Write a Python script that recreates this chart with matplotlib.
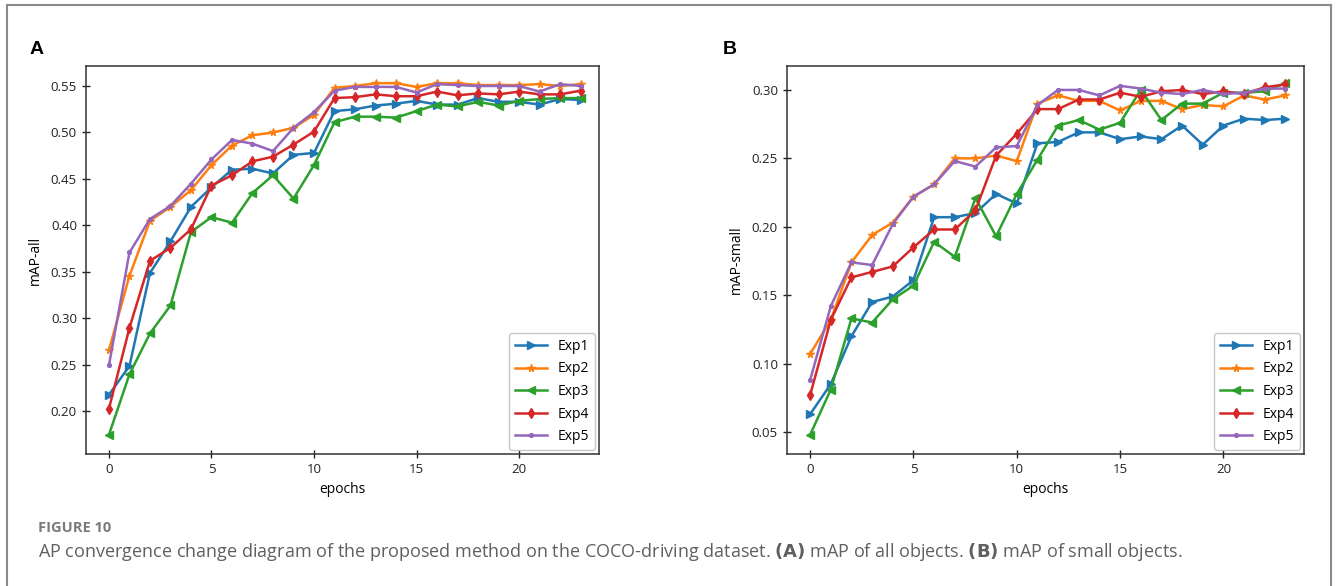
import numpy as np
import matplotlib
matplotlib.use('Agg')
import matplotlib.pyplot as plt

plt.rcParams['font.family'] = ['Open Sans', 'DejaVu Sans']

#-------------------------------- DATA -------------------------------------
epochs = list(range(24))
labels = ['Exp1', 'Exp2', 'Exp3', 'Exp4', 'Exp5']

# (A) mAP of all objects
all_exp1 = [0.218, 0.249, 0.349, 0.383, 0.420, 0.441, 0.460, 0.461, 0.456, 0.476, 0.478, 0.523,
            0.525, 0.529, 0.531, 0.534, 0.530, 0.530, 0.537, 0.533, 0.533, 0.530, 0.536, 0.535]
all_exp2 = [0.266, 0.346, 0.405, 0.420, 0.438, 0.465, 0.486, 0.497, 0.500, 0.505, 0.519, 0.548,
            0.550, 0.553, 0.553, 0.549, 0.553, 0.553, 0.551, 0.551, 0.551, 0.552, 0.550, 0.552]
all_exp3 = [0.175, 0.240, 0.284, 0.314, 0.393, 0.409, 0.403, 0.435, 0.454, 0.429, 0.465, 0.511,
            0.517, 0.517, 0.516, 0.523, 0.530, 0.528, 0.533, 0.529, 0.534, 0.536, 0.537, 0.537]
all_exp4 = [0.203, 0.290, 0.362, 0.376, 0.396, 0.443, 0.454, 0.469, 0.474, 0.487, 0.501, 0.537,
            0.538, 0.541, 0.539, 0.539, 0.544, 0.540, 0.542, 0.541, 0.544, 0.541, 0.541, 0.545]
all_exp5 = [0.250, 0.371, 0.407, 0.421, 0.445, 0.471, 0.492, 0.488, 0.480, 0.505, 0.522, 0.545,
            0.549, 0.549, 0.549, 0.543, 0.552, 0.551, 0.550, 0.550, 0.550, 0.544, 0.552, 0.550]

# (B) mAP of small objects
small_exp1 = [0.063, 0.085, 0.120, 0.145, 0.149, 0.161, 0.207, 0.207, 0.210, 0.224, 0.217, 0.261,
              0.262, 0.269, 0.269, 0.264, 0.266, 0.264, 0.274, 0.260, 0.274, 0.279, 0.278, 0.279]
small_exp2 = [0.107, 0.132, 0.174, 0.194, 0.203, 0.222, 0.231, 0.250, 0.250, 0.252, 0.248, 0.290,
              0.296, 0.292, 0.292, 0.285, 0.292, 0.292, 0.286, 0.289, 0.288, 0.296, 0.293, 0.296]
small_exp3 = [0.048, 0.081, 0.133, 0.130, 0.147, 0.157, 0.189, 0.178, 0.221, 0.193, 0.224, 0.249,
              0.274, 0.278, 0.271, 0.276, 0.300, 0.278, 0.290, 0.290, 0.298, 0.298, 0.299, 0.305]
small_exp4 = [0.077, 0.132, 0.163, 0.167, 0.171, 0.185, 0.198, 0.198, 0.212, 0.252, 0.268, 0.286,
              0.286, 0.293, 0.293, 0.298, 0.295, 0.299, 0.300, 0.297, 0.299, 0.297, 0.302, 0.304]
small_exp5 = [0.088, 0.142, 0.174, 0.172, 0.202, 0.222, 0.231, 0.248, 0.244, 0.258, 0.259, 0.289,
              0.300, 0.300, 0.296, 0.303, 0.301, 0.298, 0.297, 0.300, 0.297, 0.298, 0.301, 0.301]

markers = ['>', '*', '<', 'd', '.']
colors = ['#1f77b4', '#ff7f0e', '#2ca02c', '#d62728', '#9467bd']

#-------------------------------- PLOT -------------------------------------
fig = plt.figure(figsize=(13.36, 5.86), dpi=100)

# outer frame (open at bottom like the page crop)
fc = '#8a8a8a'
fig.add_artist(plt.Line2D([7/1336, 7/1336], [0, 1-5/586], transform=fig.transFigure, color=fc, lw=1.5))
fig.add_artist(plt.Line2D([1331/1336, 1331/1336], [0, 1-5/586], transform=fig.transFigure, color=fc, lw=1.5))
fig.add_artist(plt.Line2D([7/1336, 1331/1336], [1-5/586, 1-5/586], transform=fig.transFigure, color=fc, lw=1.5))

axA = fig.add_axes([86/1336, 1-454/586, 513/1336, 388/586])
axB = fig.add_axes([787/1336, 1-454/586, 517/1336, 388/586])

panels = [
    (axA, [all_exp1, all_exp2, all_exp3, all_exp4, all_exp5], 'mAP-all', (0.1543, 0.5715), np.arange(0.20, 0.551, 0.05)),
    (axB, [small_exp1, small_exp2, small_exp3, small_exp4, small_exp5], 'mAP-small', (0.0339, 0.3175), np.arange(0.05, 0.301, 0.05)),
]

for ax, series, ylab, ylim, yt in panels:
    for vals, lab, mk, c in zip(series, labels, markers, colors):
        ax.plot(epochs, vals, marker=mk, color=c, label=lab, lw=1.8, markersize=5.5)
    ax.set_xlim(-1.12, 23.9)
    ax.set_ylim(*ylim)
    ax.set_xticks([0, 5, 10, 15, 20])
    ax.set_yticks(yt)
    ax.set_yticklabels(['%.2f' % v for v in yt])
    ax.tick_params(direction='inout', length=6, width=1, labelsize=9.5, colors='#222222')
    for s in ax.spines.values():
        s.set_color('#333333')
        s.set_linewidth(1.1)
    ax.set_xlabel('epochs', fontsize=10, labelpad=4)
    ax.set_ylabel(ylab, fontsize=10, labelpad=6)
    ax.legend(loc='lower right', fontsize=10, handlelength=2.3, labelspacing=0.55,
              borderaxespad=0.3, edgecolor='#bbbbbb', fancybox=True)

fig.text(30/1336, 1-49/586, 'A', fontsize=14, fontweight='bold', va='center', ha='left',
         family='Liberation Sans')
fig.text(723/1336, 1-49/586, 'B', fontsize=14, fontweight='bold', va='center', ha='left',
         family='Liberation Sans')

fig.text(38/1336, 1-528/586, 'FIGURE 10', fontsize=10.5, fontweight='bold', color='#7a7a7a',
         va='center', ha='left')
fig.text(38/1336, 1-552/586,
         r'AP convergence change diagram of the proposed method on the COCO-driving dataset. '
         r'$\bf{(A)}$ mAP of all objects. $\bf{(B)}$ mAP of small objects.',
         fontsize=13, color='#606060', va='center', ha='left')

plt.savefig('out.png', dpi=100)
